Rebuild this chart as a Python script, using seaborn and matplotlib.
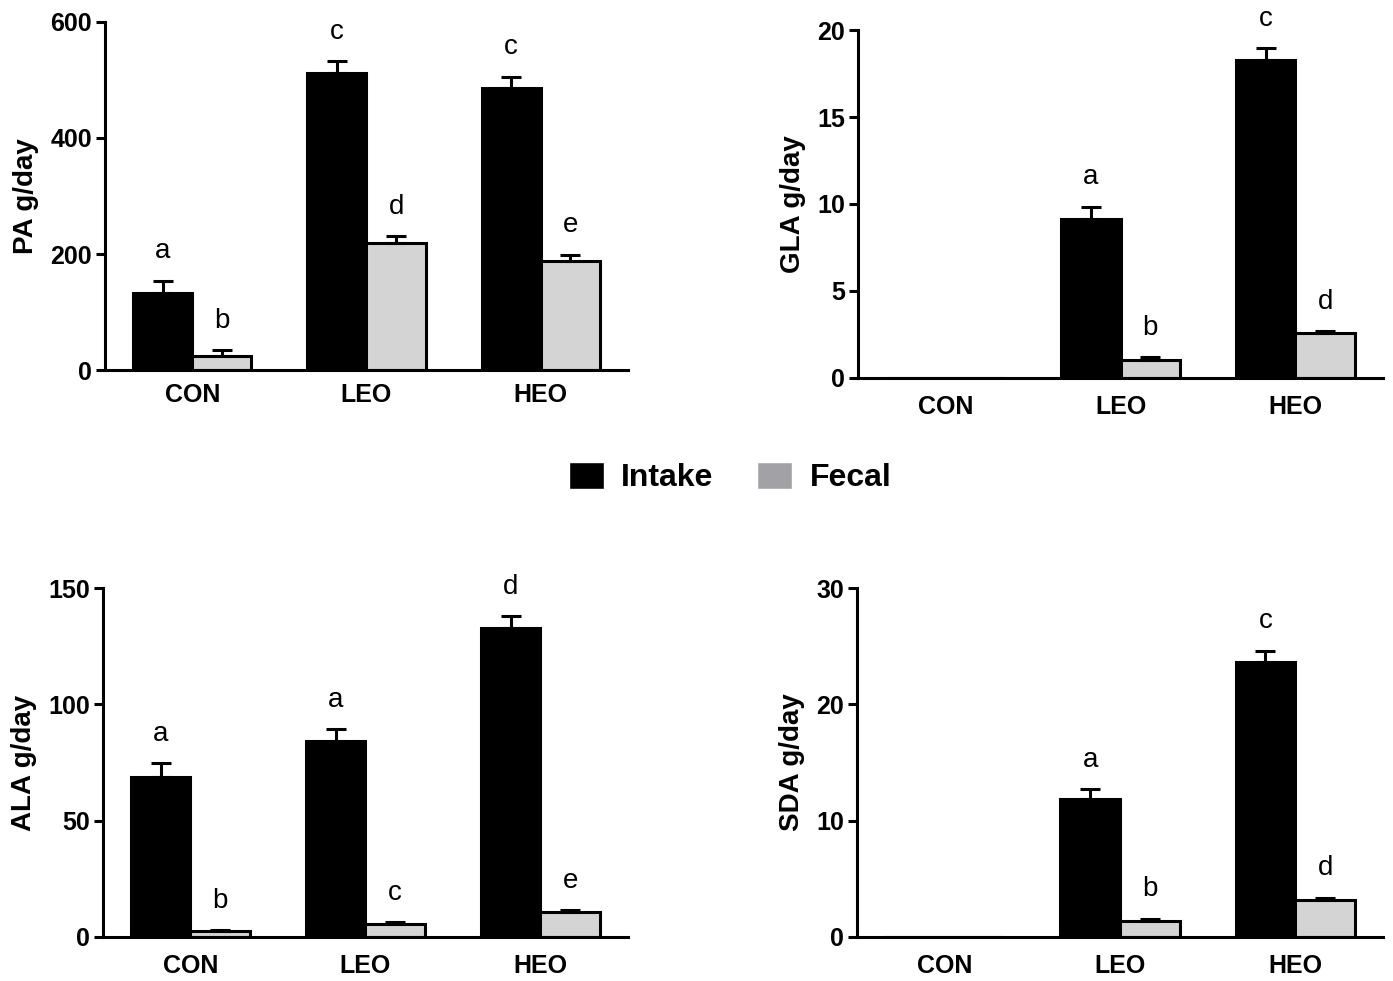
"""Fatty acid intake vs fecal output, four panels with letters for significance."""

import matplotlib.pyplot as plt
import pandas as pd
import seaborn as sns
from matplotlib.patches import Patch

sns.set_style("ticks")
plt.rcParams["font.family"] = ["Liberation Sans", "DejaVu Sans"]
plt.rcParams.update({
    "text.color": "black",
    "axes.labelcolor": "black",
    "axes.edgecolor": "black",
    "xtick.color": "black",
    "ytick.color": "black",
})

GROUPS = ["CON", "LEO", "HEO"]
SOURCES = ["Intake", "Fecal"]

# mean values (CON gets no GLA / SDA)
PA_INTAKE = [133, 512, 486]
PA_FECAL = [25, 219, 188]
PA_INTAKE_SE = [21, 20, 20]
PA_FECAL_SE = [10, 12, 11]
PA_LETTERS = [["a", "c", "c"], ["b", "d", "e"]]

GLA_INTAKE = [0, 9.12, 18.27]
GLA_FECAL = [0, 1.03, 2.56]
GLA_INTAKE_SE = [0, 0.73, 0.71]
GLA_FECAL_SE = [0, 0.17, 0.12]
GLA_LETTERS = [["", "a", "c"], ["", "b", "d"]]

ALA_INTAKE = [68.6, 84.3, 132.9]
ALA_FECAL = [2.4, 5.7, 10.9]
ALA_INTAKE_SE = [6.1, 5.0, 5.0]
ALA_FECAL_SE = [0.6, 0.7, 0.5]
ALA_LETTERS = [["a", "a", "d"], ["b", "c", "e"]]

SDA_INTAKE = [0, 11.83, 23.64]
SDA_FECAL = [0, 1.40, 3.18]
SDA_INTAKE_SE = [0, 0.89, 0.97]
SDA_FECAL_SE = [0, 0.18, 0.20]
SDA_LETTERS = [["", "a", "c"], ["", "b", "d"]]

PANELS = [
    ("PA g/day", PA_INTAKE, PA_FECAL, PA_INTAKE_SE, PA_FECAL_SE, PA_LETTERS, [0, 200, 400, 600]),
    ("GLA g/day", GLA_INTAKE, GLA_FECAL, GLA_INTAKE_SE, GLA_FECAL_SE, GLA_LETTERS, [0, 5, 10, 15, 20]),
    ("ALA g/day", ALA_INTAKE, ALA_FECAL, ALA_INTAKE_SE, ALA_FECAL_SE, ALA_LETTERS, [0, 50, 100, 150]),
    ("SDA g/day", SDA_INTAKE, SDA_FECAL, SDA_INTAKE_SE, SDA_FECAL_SE, SDA_LETTERS, [0, 10, 20, 30]),
]

AXES_RECTS = [
    [0.0754, 0.6228, 0.3754, 0.3548],
    [0.6160, 0.6147, 0.3768, 0.3547],
    [0.0739, 0.0449, 0.3769, 0.3557],
    [0.6152, 0.0449, 0.3776, 0.3557],
]
XPADS = [9.5, 12.5, 12, 12]

PALETTE = {"Intake": "black", "Fecal": "#d4d4d4"}
LW = 2.2


def draw_panel(ax, label, intake, fecal, intake_se, fecal_se, letters, yticks, xpad):
    df = pd.DataFrame(
        {
            "group": GROUPS * 2,
            "source": ["Intake"] * 3 + ["Fecal"] * 3,
            "value": intake + fecal,
        }
    )
    sns.barplot(
        data=df, x="group", y="value", hue="source", order=GROUPS, hue_order=SOURCES,
        palette=PALETTE, edgecolor="black", linewidth=LW, width=0.68, gap=0,
        errorbar=None, legend=False, ax=ax,
    )

    for cont, errs, labs in zip(ax.containers, [intake_se, fecal_se], letters):
        for bar, err, lab in zip(cont.patches, errs, labs):
            h = bar.get_height()
            if h <= 0:
                continue
            xc = bar.get_x() + bar.get_width() / 2
            ax.errorbar(xc, h, yerr=[[0], [err]], fmt="none", ecolor="black",
                        elinewidth=LW, capsize=7.2, capthick=LW, zorder=1)
            ax.annotate(lab, xy=(xc, h + err), xytext=(0, 16), textcoords="offset points",
                        ha="center", va="baseline", fontsize=20)

    ax.set_xlim(-0.5, 2.5)
    ax.set_ylim(0, yticks[-1])
    ax.set_yticks(yticks)
    ax.set_xlabel("")
    ax.set_ylabel(label, fontsize=20, fontweight="bold", labelpad=8)
    ax.tick_params(axis="y", length=6.5, width=LW, labelsize=18, pad=3)
    ax.tick_params(axis="x", length=0, labelsize=18, pad=xpad)
    for t in ax.get_xticklabels() + ax.get_yticklabels():
        t.set_fontweight("bold")
    sns.despine(ax=ax)
    for side in ["left", "bottom"]:
        ax.spines[side].set_linewidth(LW)


def main() -> None:
    fig = plt.figure(figsize=(13.93, 9.81), dpi=100)
    for rect, panel, xpad in zip(AXES_RECTS, PANELS, XPADS):
        ax = fig.add_axes(rect)
        draw_panel(ax, *panel, xpad)

    handles = [Patch(facecolor="black"), Patch(facecolor="#a2a2a6")]
    fig.legend(
        handles, SOURCES, loc="center", bbox_to_anchor=(0.524, 0.513), ncol=2,
        frameon=False, prop={"size": 23, "weight": "bold"},
        handlelength=1.1, handleheight=0.9, handletextpad=0.55, columnspacing=1.35,
    )

    fig.savefig("out.png", dpi=100)
    plt.close(fig)


if __name__ == "__main__":
    main()
